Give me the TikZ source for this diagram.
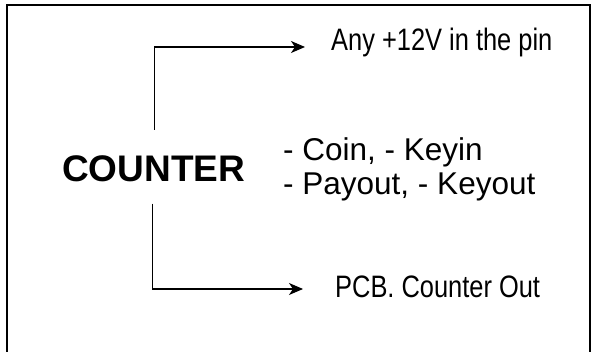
\documentclass[tikz,border=0pt]{standalone}
\usepackage{fontspec}
\setmainfont{Liberation Sans}
\newfontfamily\narrowfont[FakeStretch=0.82]{Liberation Sans}
\usetikzlibrary{arrows.meta}
\begin{document}
\begin{tikzpicture}[x=1pt,y=-1pt,
  frame/.style={line width=2pt},
  conn/.style={line width=1.3pt,-{Stealth[length=14pt,width=12pt,inset=4pt]}},
  lbl/.style={anchor=base west,inner sep=0pt},
  narrowtxt/.style={lbl,font=\narrowfont\fontsize{31}{36}\selectfont},
  sigtxt/.style={lbl,font=\fontsize{31.5}{36}\selectfont}]
\useasboundingbox (0,0) rectangle (593,352);
\draw[frame] (7,352) -- (7,5) -- (590,5) -- (590,352);
\node[lbl,font=\bfseries\fontsize{37}{42}\selectfont] (counter) at (62,182) {COUNTER};
\node[narrowtxt] (top) at (331,51) {Any +12V in the pin};
\node[narrowtxt] (bot) at (335,297) {PCB. Counter Out};
\node[sigtxt] (coin) at (283,161) {- Coin, - Keyin};
\node[sigtxt] (pay) at (283,195) {- Payout, - Keyout};
\coordinate (ta) at (305,47);
\coordinate (tb) at (303,289);
\draw[conn] ([xshift=1pt,yshift=26pt]counter.north) |- (ta);
\draw[conn] ([xshift=-1pt,yshift=-21pt]counter.south) |- (tb);
\end{tikzpicture}
\end{document}
